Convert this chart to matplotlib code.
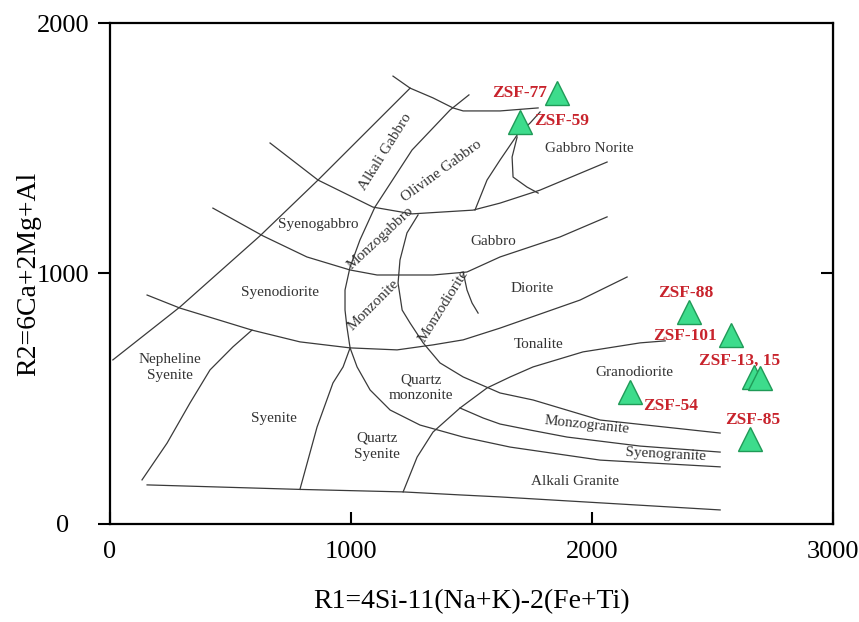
import numpy as np
import matplotlib
matplotlib.use('Agg')
import matplotlib.pyplot as pl
from matplotlib import rcParams
rcParams['font.family'] = ['Liberation Serif', 'DejaVu Serif']

# boundary curves of the R1-R2 diagram (data units)
top_x = [1174, 1245, 1340, 1423, 1465, 1618, 1776]
top_y = [1788, 1740, 1701, 1661, 1649, 1649, 1661]
alk_x = [1245, 863, 622, 290, 12]
alk_y = [1740, 1373, 1150, 866, 655]
monz_x = [1489, 1411, 1253, 1099, 1037, 996, 975, 975, 983, 996, 1025, 1079, 1162, 1286, 1465, 1660, 2033, 2531]
monz_y = [1713, 1653, 1493, 1265, 1134, 1026, 934, 854, 786, 703, 627, 535, 455, 395, 347, 307, 255, 228]
gab_up_x = [664, 863, 1091, 1253, 1506, 1618, 1784, 2062]
gab_up_y = [1521, 1373, 1265, 1238, 1253, 1281, 1333, 1445]
nor1_x = [1514, 1564, 1618, 1689, 1743, 1784]
nor1_y = [1253, 1373, 1453, 1553, 1601, 1645]
nor2_x = [1689, 1668, 1672, 1730, 1776]
nor2_y = [1545, 1465, 1385, 1345, 1321]
gab_lo_x = [427, 635, 817, 996, 1108, 1340, 1481, 1618, 1867, 2062]
gab_lo_y = [1261, 1150, 1066, 1014, 994, 994, 1006, 1066, 1146, 1226]
mzd_x = [1278, 1232, 1203, 1195, 1212, 1245, 1299, 1369, 1465, 1618, 1755, 2033, 2531]
mzd_y = [1234, 1162, 1054, 962, 854, 802, 723, 643, 587, 523, 495, 415, 363]
mzg_x = [1452, 1548, 1618, 1743, 1896, 2199, 2531]
mzg_y = [463, 423, 399, 375, 347, 311, 287]
grd_x = [1216, 1274, 1340, 1452, 1564, 1660, 1755, 1962, 2199, 2303]
grd_y = [128, 267, 367, 463, 543, 587, 627, 687, 723, 731]
bot_x = [154, 788, 1216, 1452, 1618, 2531]
bot_y = [156, 138, 128, 116, 108, 56]
qsy_x = [996, 967, 925, 859, 788]
qsy_y = [703, 627, 563, 387, 138]
nep_x = [589, 510, 415, 332, 237, 133]
nep_y = [774, 707, 615, 483, 323, 176]
dio_x = [154, 290, 589, 788, 996, 1191, 1340, 1465, 1618, 1950, 2145]
dio_y = [914, 862, 774, 727, 703, 695, 715, 735, 782, 894, 986]
md_x = [1465, 1481, 1502, 1527]
md_y = [1006, 934, 882, 842]

curves = [(top_x, top_y), (alk_x, alk_y), (monz_x, monz_y), (gab_up_x, gab_up_y),
          (nor1_x, nor1_y), (nor2_x, nor2_y), (gab_lo_x, gab_lo_y), (mzd_x, mzd_y),
          (mzg_x, mzg_y), (grd_x, grd_y), (bot_x, bot_y), (qsy_x, qsy_y),
          (nep_x, nep_y), (dio_x, dio_y), (md_x, md_y)]

# field names
fields = ['Alkali Gabbro', 'Olivine Gabbro', 'Monzogabbro', 'Syenogabbro', 'Syenodiorite',
          'Gabbro Norite', 'Gabbro', 'Diorite', 'Monzonite', 'Monzodiorite', 'Tonalite',
          'Granodiorite', 'Monzogranite', 'Syenogranite', 'Alkali Granite',
          'Nepheline\nSyenite', 'Syenite', 'Quartz\nmonzonite', 'Quartz\nSyenite']
field_x = [1141, 1377, 1120, 863, 705, 1987, 1589, 1751, 1091, 1382, 1780,
           2174, 1979, 2303, 1929, 249, 680, 1290, 1108]
field_y = [1485, 1409, 1142, 1194, 926, 1501, 1126, 942, 874, 870, 715,
           603, 395, 275, 168, 623, 423, 543, 311]
field_rot = [58, 36, 43, 0, 0, 0, 0, 0, 45, 58, 0, 0, -6, -3, 0, 0, 0, 0, 0]

# samples
samples = ['ZSF-77', 'ZSF-59', 'ZSF-88', 'ZSF-101', 'ZSF-13', 'ZSF-15', 'ZSF-54', 'ZSF-85']
r1 = [1855, 1701, 2402, 2577, 2670, 2695, 2157, 2655]
r2 = [1721, 1605, 846, 754, 587, 582, 527, 339]
lab_text = ['ZSF-77', 'ZSF-59', 'ZSF-88', 'ZSF-101', 'ZSF-13, 15', 'ZSF-54', 'ZSF-85']
lab_x = [1813, 1761, 2390, 2519, 2610, 2212, 2665]
lab_y = [1721, 1609, 922, 750, 651, 469, 415]
lab_ha = ['right', 'left', 'center', 'right', 'center', 'left', 'center']

fig = pl.figure(figsize=(8.59, 6.22), dpi=100)
ax = fig.add_axes([0.128, 0.1576, 0.842, 0.8054])

for cx, cy in curves:
    ax.plot(cx, cy, color='#3a3a3a', lw=0.9)

for t, x, y, r in zip(fields, field_x, field_y, field_rot):
    ax.text(x, y, t, rotation=r, ha='center', va='center', fontsize=11,
            color='#333333', linespacing=1.3, rotation_mode='anchor')

ax.plot(r1, r2, '^', ms=17, mfc='#3ddc8c', mec='#1f9a57', mew=1.0, ls='none', zorder=5)

for t, x, y, h in zip(lab_text, lab_x, lab_y, lab_ha):
    ax.text(x, y, t, ha=h, va='center', fontsize=12.5, fontweight='bold', color='#c8232c')

ax.set_xlim(0, 3000)
ax.set_ylim(0, 2000)
ax.set_xticks([0, 1000, 2000, 3000])
ax.set_yticks([0, 1000, 2000])
ax.tick_params(axis='x', direction='in', length=9, width=1.5, labelsize=19, pad=12, top=False)
ax.tick_params(axis='y', direction='out', length=9, width=1.5, labelsize=19, pad=25, right=False)
for lab in ax.get_yticklabels():
    lab.set_horizontalalignment('center')
for s in ax.spines.values():
    s.set_linewidth(1.6)
sec = ax.secondary_yaxis('right')
sec.set_yticks([1000])
sec.tick_params(direction='in', length=9, width=1.5, labelright=False)

ax.set_xlabel('R1=4Si-11(Na+K)-2(Fe+Ti)', fontsize=20)
ax.set_ylabel('R2=6Ca+2Mg+Al', fontsize=20)
ax.xaxis.set_label_coords(0.5, -0.13)
ax.yaxis.set_label_coords(-0.095, 0.5)

pl.savefig('out.png', dpi=100)
